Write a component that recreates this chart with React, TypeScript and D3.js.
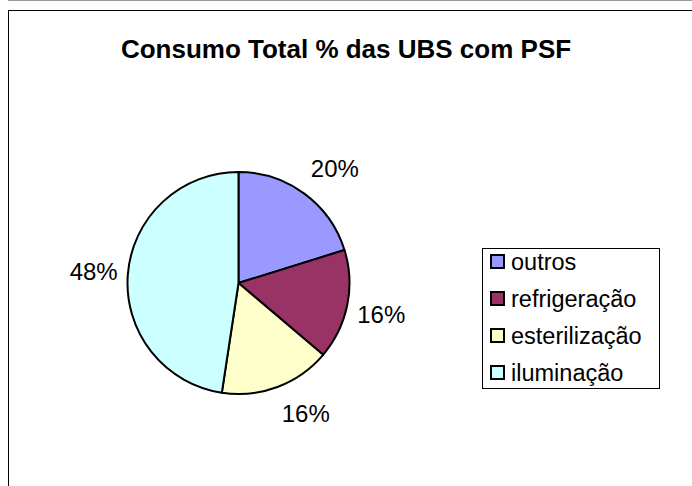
import React from "react";
import * as d3 from "d3";

const categories = ["outros", "refrigeração", "esterilização", "iluminação"];
const values = [20.2, 16.0, 16.2, 47.6];
const colors = ["#9999FF", "#993366", "#FFFFCC", "#CCFFFF"];
const title = "Consumo Total % das UBS com PSF";

const W = 692;
const H = 486;

export default function App() {
  const cx = 238.5;
  const cy = 283;
  const r = 111;
  const total = d3.sum(values);
  const pie = d3.pie<number>().sort(null).value((d) => d)(values);
  const arc = d3.arc<d3.PieArcDatum<number>>().innerRadius(0).outerRadius(r);
  const fs = 24;
  const clamp = (v: number) => Math.max(-1, Math.min(1, v));

  const legendX = 482;
  const legendY = 248;
  const rowH = 37;

  return (
    <svg
      width={W}
      height={H}
      style={{ position: "absolute", left: 0, top: 0, background: "#fff" }}
      fontFamily="'Liberation Sans', Arial, sans-serif"
    >
      <rect x={0} y={0} width={W} height={H} fill="#fff" />
      <line x1={8} x2={W} y1={0.5} y2={0.5} stroke="#999" strokeWidth={1} />
      <rect x={8.5} y={10.5} width={W + 20} height={H + 20} fill="none" stroke="#000" strokeWidth={1} />
      <text x={346} y={58} textAnchor="middle" fontSize={26} fontWeight="bold" fill="#000">
        {title}
      </text>
      <g transform={`translate(${cx},${cy})`}>
        {pie.map((p, i) => (
          <path key={i} d={arc(p) || ""} fill={colors[i]} stroke="#000" strokeWidth={2} strokeLinejoin="round" />
        ))}
        {pie.map((p, i) => {
          const a = (p.startAngle + p.endAngle) / 2;
          const s = Math.sin(a);
          const c = -Math.cos(a);
          const R = r + 9;
          const label = `${Math.round((values[i] / total) * 100)}%`;
          const w = fs * 2.1;
          const h = 36;
          const x = R * s + (w / 2) * clamp(s * 3);
          const y = R * c + (h / 2) * clamp(c * 2);
          return (
            <text key={i} x={x} y={y + fs * 0.36} textAnchor="middle" fontSize={fs} fill="#000">
              {label}
            </text>
          );
        })}
      </g>
      <rect
        x={legendX + 0.5}
        y={legendY + 0.5}
        width={177}
        height={140}
        fill="#fff"
        stroke="#000"
        strokeWidth={1}
      />
      {categories.map((cat, i) => {
        const yc = legendY + 14 + i * rowH;
        return (
          <g key={cat}>
            <rect x={491} y={yc - 7} width={13} height={13} fill={colors[i]} stroke="#000" strokeWidth={2} />
            <text x={511} y={yc + 8} fontSize={23.5} fill="#000">
              {cat}
            </text>
          </g>
        );
      })}
    </svg>
  );
}
